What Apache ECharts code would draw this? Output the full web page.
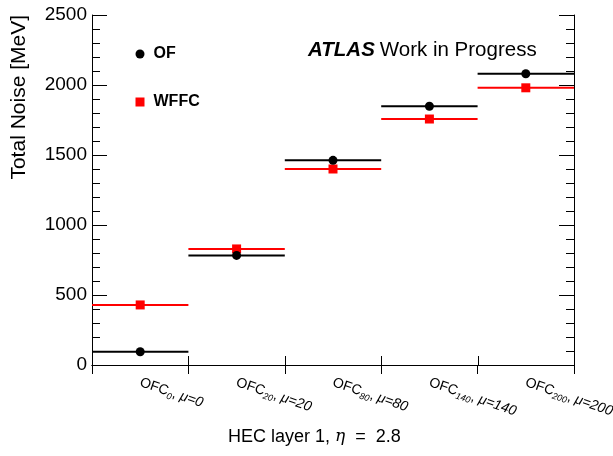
<!DOCTYPE html>
<html>
<head>
<meta charset="utf-8">
<script src="https://cdn.jsdelivr.net/npm/echarts@6/dist/echarts.min.js"></script>
<style>html,body{margin:0;padding:0;background:#fff;}#c{width:613px;height:456px;}</style>
</head>
<body>
<div id="c"></div>
<script>
const categories = ['OFC0', 'OFC20', 'OFC80', 'OFC140', 'OFC200'];
const ofcSub = ['0', '20', '80', '140', '200'];
const muValues = ['0', '20', '80', '140', '200'];
const ofValues = [95, 783, 1462, 1848, 2080];
const wffcValues = [429, 829, 1400, 1757, 1980];
const yTicks = [0, 500, 1000, 1500, 2000, 2500];

const FONT = 'Liberation Sans';
const chart = echarts.init(document.getElementById('c'), null, {renderer: 'canvas'});

function makeRender(color, marker) {
  return function (params, api) {
    const x = api.value(0), y = api.value(1);
    const pt = api.coord([x, y]);
    const w = api.size([1, 0])[0];
    const children = [{
      type: 'line',
      shape: {x1: pt[0] - w / 2, y1: pt[1], x2: pt[0] + w / 2, y2: pt[1]},
      style: {stroke: color, lineWidth: 2}
    }];
    if (marker === 'circle') {
      children.push({type: 'circle', shape: {cx: pt[0], cy: pt[1], r: 4.5}, style: {fill: color}});
    } else {
      children.push({type: 'rect', shape: {x: pt[0] - 4.5, y: pt[1] - 4.5, width: 9, height: 9}, style: {fill: color}});
    }
    return {type: 'group', children: children};
  };
}

// bottom-axis boundary ticks pointing into the plot
function renderBottomTick(params, api) {
  const pt = api.coord([api.value(0), yTicks[0]]);
  const w = api.size([1, 0])[0];
  const x = Math.round(pt[0] - w / 2) + 0.5;
  return {
    type: 'line', silent: true,
    shape: {x1: x, y1: pt[1], x2: x, y2: pt[1] - 9},
    style: {stroke: '#000', lineWidth: 1}
  };
}

const tickStyle = {color: '#000', width: 1};

const option = {
  animation: false,
  backgroundColor: '#fff',
  grid: {left: 92, right: 39, top: 15, bottom: 91, outerBoundsMode: 'none', containLabel: false},
  title: {
    text: '{a|ATLAS} {b|Work in Progress}',
    left: 308, top: 40, padding: 0,
    textStyle: {
      fontWeight: 'normal',
      rich: {
        a: {fontFamily: FONT, fontSize: 20.5, fontWeight: 'bold', fontStyle: 'italic', color: '#000'},
        b: {fontFamily: FONT, fontSize: 20.5, fontWeight: 'normal', color: '#000'}
      }
    }
  },
  legend: {
    orient: 'vertical',
    left: 130.5, top: 41,
    itemWidth: 9, itemHeight: 9,
    itemGap: 32,
    data: [{name: 'OF', icon: 'circle'}, {name: 'WFFC', icon: 'rect'}],
    textStyle: {fontFamily: FONT, fontSize: 16, fontWeight: 'bold', color: '#000', padding: [0, 0, 0, 4]}
  },
  graphic: [
    {
      type: 'text', left: 9, top: 15, rotation: Math.PI / 2,
      style: {text: 'Total Noise [MeV]', fontFamily: FONT, fontSize: 21, fill: '#000'}
    },
    {
      type: 'text', left: 228, top: 428,
      style: {
        text: '{t|HEC layer 1, }{i|η}{e|=}{t|2.8}',
        rich: {
          t: {fontFamily: FONT, fontSize: 18, color: '#000'},
          i: {fontFamily: 'DejaVu Serif', fontSize: 17, fontStyle: 'italic', color: '#000'},
          e: {fontFamily: FONT, fontSize: 18, color: '#000', padding: [0, 10, 0, 10]}
        }
      }
    }
  ],
  xAxis: [
    {
      type: 'category', data: categories, position: 'bottom', boundaryGap: true,
      axisLine: {onZero: false, lineStyle: {color: '#000', width: 1}},
      axisTick: {show: false},
      axisLabel: {
        rotate: -19, margin: 17, interval: 0,
        formatter: function (v, i) { return '{n|OFC}{s|' + ofcSub[i] + '}{n|, }{m|μ=' + muValues[i] + '}'; },
        rich: {
          n: {fontFamily: FONT, fontSize: 14, color: '#000'},
          m: {fontFamily: FONT, fontSize: 14, fontStyle: 'italic', color: '#000'},
          s: {fontFamily: FONT, fontSize: 9, fontStyle: 'italic', color: '#000', padding: [9, 0, 0, 0]}
        }
      },
      splitLine: {show: false}
    },
    {
      type: 'category', data: categories, position: 'top', boundaryGap: true,
      axisLine: {lineStyle: {color: '#000', width: 1}},
      axisTick: {show: true, inside: true, length: 9, lineStyle: tickStyle},
      axisLabel: {show: false},
      splitLine: {show: false}
    }
  ],
  yAxis: [
    {
      type: 'value', min: yTicks[0], max: yTicks[yTicks.length - 1], interval: 500, position: 'left',
      axisLine: {show: true, lineStyle: {color: '#000', width: 1}},
      axisTick: {show: true, inside: false, length: -15, lineStyle: tickStyle},
      minorTick: {show: true, splitNumber: 5, length: -8, lineStyle: tickStyle},
      axisLabel: {fontFamily: FONT, fontSize: 19, color: '#000', margin: 5, formatter: function (v) { return String(v); }},
      splitLine: {show: false}
    },
    {
      type: 'value', min: yTicks[0], max: yTicks[yTicks.length - 1], interval: 500, position: 'right',
      axisLine: {show: true, lineStyle: {color: '#000', width: 1}},
      axisTick: {show: true, inside: true, length: 15, lineStyle: tickStyle},
      minorTick: {show: true, splitNumber: 5, length: 8, lineStyle: tickStyle},
      axisLabel: {show: false},
      splitLine: {show: false}
    }
  ],
  series: [
    {
      name: 'ticks', type: 'custom', xAxisIndex: 0, yAxisIndex: 0, silent: true,
      renderItem: renderBottomTick,
      data: categories.map((c, i) => [i])
    },
    {
      name: 'WFFC', type: 'custom', xAxisIndex: 0, yAxisIndex: 0,
      itemStyle: {color: '#ff0000'},
      renderItem: makeRender('#ff0000', 'rect'),
      data: wffcValues.map((v, i) => [i, v])
    },
    {
      name: 'OF', type: 'custom', xAxisIndex: 0, yAxisIndex: 0,
      itemStyle: {color: '#000000'},
      renderItem: makeRender('#000000', 'circle'),
      data: ofValues.map((v, i) => [i, v])
    }
  ]
};
chart.setOption(option);
</script>
</body>
</html>
